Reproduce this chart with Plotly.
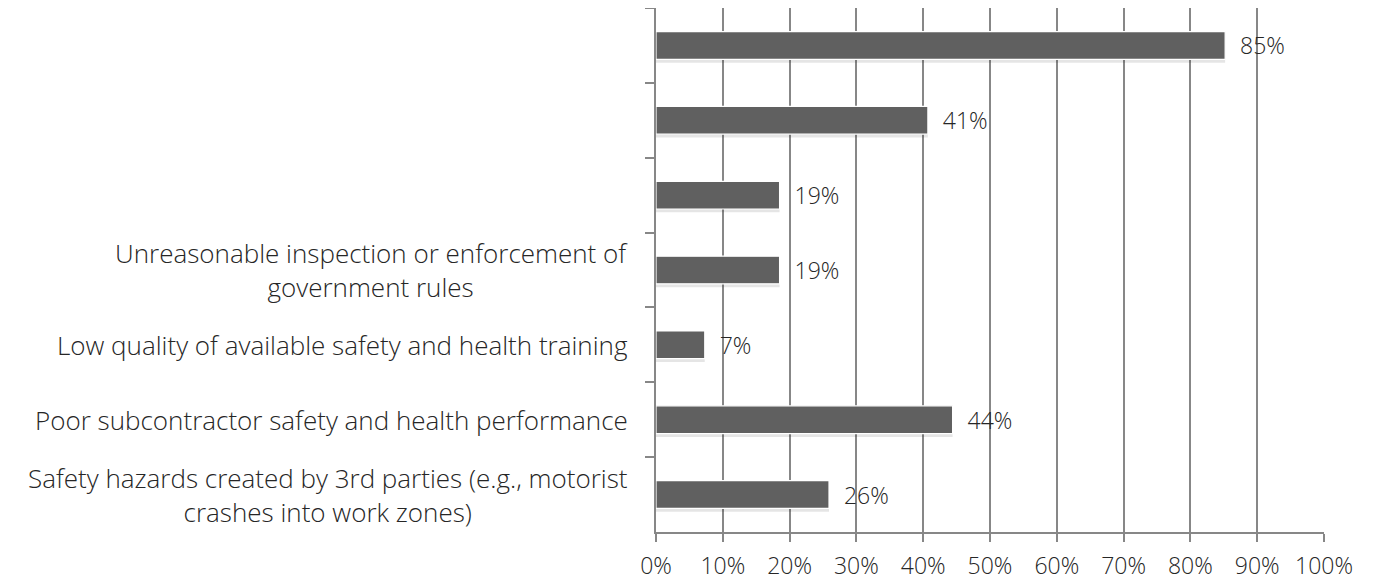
import plotly.graph_objects as go

# Data (top to bottom as shown)
category_ids = ["c1", "c2", "c3", "c4", "c5", "c6", "c7"]
category_labels = [
    "",
    "",
    "",
    "Unreasonable inspection or enforcement of<br>government rules",
    "Low quality of available safety and health training",
    "Poor subcontractor safety and health performance",
    "Safety hazards created by 3rd parties (e.g., motorist<br>crashes into work zones)",
]
values = [85.2, 40.7, 18.5, 18.5, 7.3, 44.4, 25.9]
x_tickvals = [0, 10, 20, 30, 40, 50, 60, 70, 80, 90, 100]
x_ticktext = ["0%", "10%", "20%", "30%", "40%", "50%", "60%", "70%", "80%", "90%", "100%"]

FONT = "Open Sans"
FS_CAT = 26
FS = 23
TXT = "#262626"
GRID = "#878787"
BAR_W = 0.37

fig = go.Figure()

# soft shadow behind bars
fig.add_trace(go.Bar(
    x=values, y=category_ids, orientation="h",
    width=BAR_W, offset=-BAR_W / 2 + 0.045,
    marker=dict(color="rgba(0,0,0,0.10)", line=dict(width=0)),
    hoverinfo="skip", showlegend=False,
))

fig.add_trace(go.Bar(
    x=values, y=category_ids, orientation="h",
    width=BAR_W, offset=-BAR_W / 2,
    marker=dict(color="#606060", line=dict(color="#ffffff", width=1.2)),
    texttemplate="\u00a0\u00a0%{x:.0f}%",
    textposition="outside", constraintext="none", cliponaxis=False,
    textfont=dict(family=FONT, size=FS, color=TXT, weight=300),
    showlegend=False,
))

for cid, lab in zip(category_ids, category_labels):
    if lab:
        fig.add_annotation(
            x=0, xref="paper", y=cid, yref="y",
            text=lab, showarrow=False, xanchor="right", align="center",
            xshift=-26,
            font=dict(family=FONT, size=FS_CAT, color=TXT, weight=300),
        )

fig.update_layout(
    width=1374, height=581,
    margin=dict(l=648, r=58, t=0, b=57),
    paper_bgcolor="white", plot_bgcolor="white",
    barmode="overlay",
    font=dict(family=FONT, size=FS, color=TXT, weight=300),
)
fig.update_xaxes(
    range=[0, 100], tickvals=x_tickvals, ticktext=x_ticktext,
    showgrid=True, gridcolor=GRID, gridwidth=1.5,
    showline=True, linecolor=GRID, linewidth=2,
    ticks="outside", ticklen=8, tickcolor=GRID, tickwidth=1.5,
    zeroline=False, ticklabelstandoff=4, automargin=False,
    tickfont=dict(family=FONT, size=FS, color=TXT, weight=300),
)
fig.update_yaxes(
    type="category", categoryorder="array", categoryarray=category_ids,
    autorange="reversed", automargin=False,
    showticklabels=False, tickson="boundaries",
    ticks="outside", ticklen=9, tickcolor=GRID, tickwidth=1.5,
    showline=True, linecolor=GRID, linewidth=2,
    showgrid=False, zeroline=False,
)

fig.write_html("out.html")
